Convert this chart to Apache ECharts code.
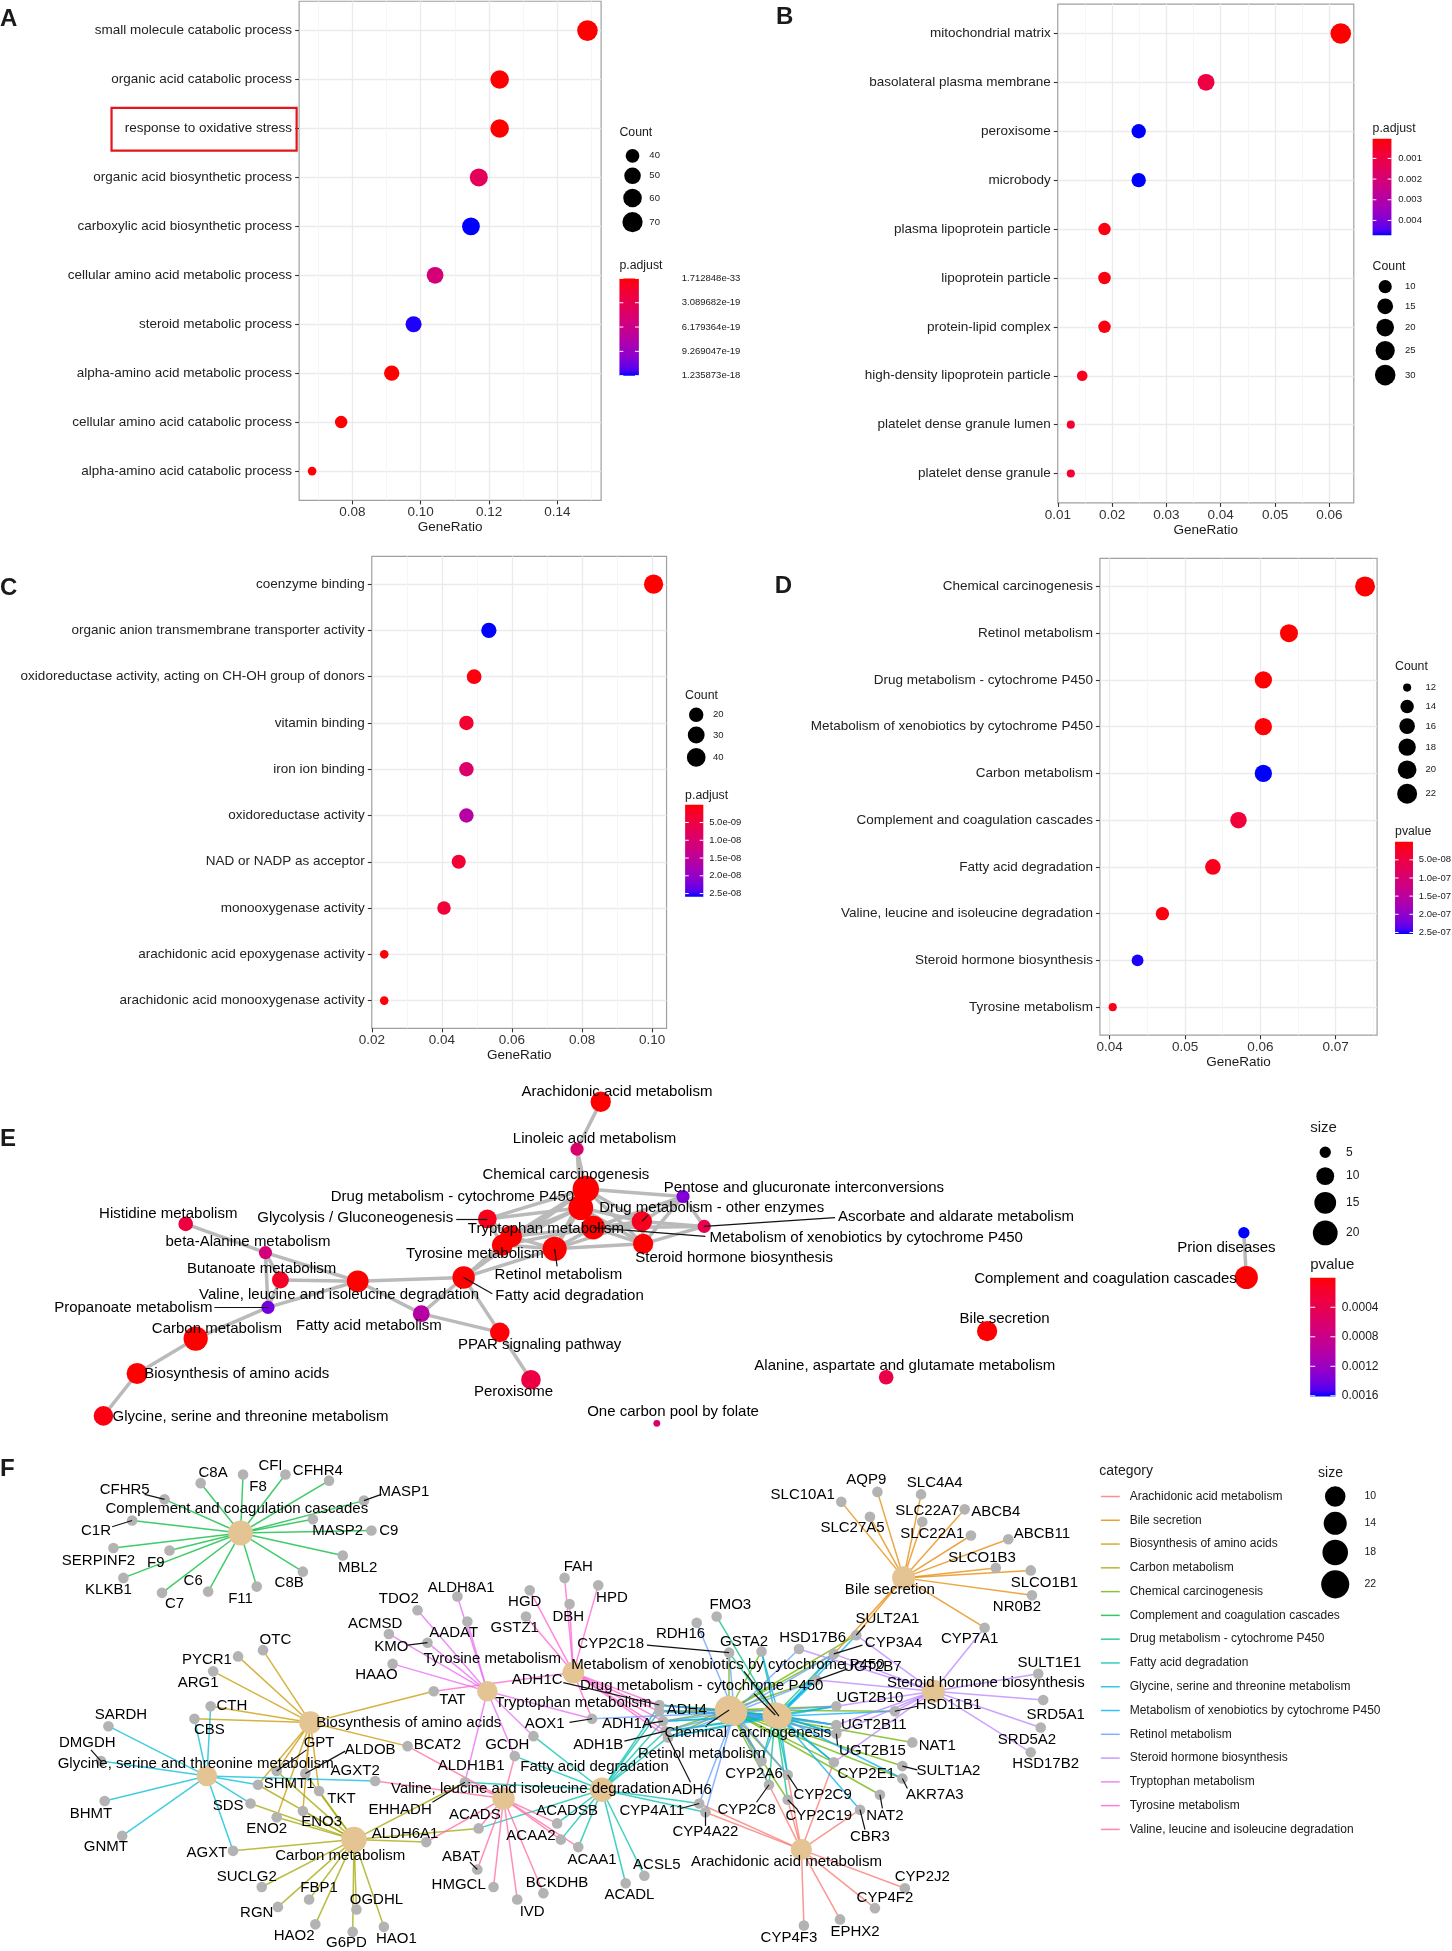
<!DOCTYPE html>
<html>
<head>
<meta charset="utf-8">
<script src="https://cdn.jsdelivr.net/npm/echarts/dist/echarts.min.js"></script>
<style>html,body{margin:0;padding:0;background:#fff}#chart{width:1452px;height:1951px}</style>
</head>
<body>
<div id="chart"></div>
<script>
// reference layout units (1165 wide) -> page px
const S = 1452 / 1165;
const FONT = '"Liberation Sans", Arial, Helvetica, sans-serif';

// ---------- A: GO biological process ----------
const aTerms = ['small molecule catabolic process', 'organic acid catabolic process', 'response to oxidative stress',
  'organic acid biosynthetic process', 'carboxylic acid biosynthetic process', 'cellular amino acid metabolic process',
  'steroid metabolic process', 'alpha-amino acid metabolic process', 'cellular amino acid catabolic process',
  'alpha-amino acid catabolic process'];
const aRatio = [0.1488, 0.1231, 0.1231, 0.1170, 0.1147, 0.1042, 0.0979, 0.0915, 0.0767, 0.0682];
const aCount = [72, 60, 60, 57, 56, 51, 48, 45, 37, 33];
const aPadj = [1.712848e-33, 2.1e-25, 6.5e-23, 3.6e-19, 1.235873e-18, 5.3e-19, 1.225e-18, 4.2e-24, 1.8e-22, 9.5e-22];
const aRange = [0.0644, 0.1528];
const aColorTicks = [1.712848e-33, 3.089682e-19, 6.179364e-19, 9.269047e-19, 1.235873e-18];
const aSizeTicks = [40, 50, 60, 70];

// ---------- B: GO cellular component ----------
const bTerms = ['mitochondrial matrix', 'basolateral plasma membrane', 'peroxisome', 'microbody',
  'plasma lipoprotein particle', 'lipoprotein particle', 'protein-lipid complex', 'high-density lipoprotein particle',
  'platelet dense granule lumen', 'platelet dense granule'];
const bRatio = [0.0621, 0.0373, 0.0249, 0.0249, 0.0186, 0.0186, 0.0186, 0.0145, 0.0124, 0.0124];
const bCount = [30, 18, 12, 12, 9, 9, 9, 7, 6, 6];
const bPadj = [5.4e-5, 9.5e-4, 4.72e-3, 4.72e-3, 2.0e-4, 2.0e-4, 2.0e-4, 3.5e-4, 6.5e-4, 6.5e-4];
const bRange = [0.01, 0.0645];
const bPLim = [5.4e-5, 4.72e-3];
const bColorTicks = [0.001, 0.002, 0.003, 0.004];
const bSizeTicks = [10, 15, 20, 25, 30];

// ---------- C: GO molecular function ----------
const cTerms = ['coenzyme binding', 'organic anion transmembrane transporter activity',
  'oxidoreductase activity, acting on CH-OH group of donors', 'vitamin binding', 'iron ion binding',
  'oxidoreductase activity', 'NAD or NADP as acceptor', 'monooxygenase activity',
  'arachidonic acid epoxygenase activity', 'arachidonic acid monooxygenase activity'];
const cRatio = [0.1004, 0.0534, 0.0492, 0.0470, 0.0470, 0.0470, 0.0448, 0.0406, 0.02355, 0.02355];
const cCount = [43, 23, 21, 20, 20, 20, 19, 17, 10, 10];
const cPadj = [2.0e-12, 2.59e-8, 6.0e-10, 3.2e-9, 9.5e-9, 1.6e-8, 3.5e-9, 3.8e-9, 3.0e-10, 3.0e-10];
const cRange = [0.02, 0.1041];
const cPLim = [2.0e-12, 2.59e-8];
const cColorTicks = [5e-9, 1e-8, 1.5e-8, 2e-8, 2.5e-8];
const cSizeTicks = [20, 30, 40];

// ---------- D: KEGG ----------
const dTerms = ['Chemical carcinogenesis', 'Retinol metabolism', 'Drug metabolism - cytochrome P450',
  'Metabolism of xenobiotics by cytochrome P450', 'Carbon metabolism', 'Complement and coagulation cascades',
  'Fatty acid degradation', 'Valine, leucine and isoleucine degradation', 'Steroid hormone biosynthesis',
  'Tyrosine metabolism'];
const dRatio = [0.0739, 0.0638, 0.0604, 0.0604, 0.0604, 0.0571, 0.0537, 0.0470, 0.0437, 0.0404];
const dCount = [22, 19, 18, 18, 18, 17, 16, 14, 13, 12];
const dPval = [2.0e-13, 3.0e-11, 1.2e-9, 2.0e-9, 2.54e-7, 4.0e-8, 1.5e-8, 6.0e-9, 2.52e-7, 1.0e-8];
const dRange = [0.0387, 0.0755];
const dPLim = [2.0e-13, 2.54e-7];
const dColorTicks = [5e-8, 1e-7, 1.5e-7, 2e-7, 2.5e-7];
const dSizeTicks = [12, 14, 16, 18, 20, 22];

// ---------- E: enrichment map ----------
const eTerms = ['Arachidonic acid metabolism', 'Linoleic acid metabolism', 'Chemical carcinogenesis',
  'Drug metabolism - cytochrome P450', 'Pentose and glucuronate interconversions', 'Drug metabolism - other enzymes',
  'Ascorbate and aldarate metabolism', 'Metabolism of xenobiotics by cytochrome P450', 'Histidine metabolism',
  'beta-Alanine metabolism', 'Glycolysis / Gluconeogenesis', 'Tryptophan metabolism', 'Tyrosine metabolism',
  'Retinol metabolism', 'Steroid hormone biosynthesis', 'Butanoate metabolism',
  'Valine, leucine and isoleucine degradation', 'Fatty acid degradation', 'Propanoate metabolism',
  'Carbon metabolism', 'Fatty acid metabolism', 'PPAR signaling pathway', 'Biosynthesis of amino acids',
  'Peroxisome', 'Glycine, serine and threonine metabolism', 'One carbon pool by folate', 'Prion diseases',
  'Complement and coagulation cascades', 'Bile secretion', 'Alanine, aspartate and glutamate metabolism'];
const eSize = [13, 6, 23, 20, 6, 13, 6, 18, 7, 6, 11, 15, 14, 19, 13, 9, 15, 16, 6, 19, 9, 12, 14, 12, 12, 4, 5, 17, 13, 7];
const ePval = [2e-6, 6e-4, 1e-10, 1e-9, 1.35e-3, 1e-4, 4e-4, 1e-9, 3e-4, 7e-4, 8e-5, 1e-6, 2e-6, 1e-9, 2e-6, 1.5e-4,
  2e-7, 1e-7, 1.4e-3, 1e-8, 1.0e-3, 2e-5, 1e-6, 3.2e-4, 5e-5, 6e-4, 1.61e-3, 3e-8, 5e-6, 3.5e-4];
// node layout as drawn in the reference
const eX = [482, 463, 470, 466, 548, 515, 565, 476, 149, 213, 391, 410, 403, 445, 516, 225, 287, 372, 215, 157, 338, 401, 110, 426, 83, 527, 998, 1000, 792, 711];
const eY = [884, 922, 954, 969, 960, 980, 984, 985, 982, 1005, 978, 992, 999, 1002, 998, 1027, 1028, 1025, 1049, 1074, 1054, 1069, 1102, 1107, 1136, 1142, 989, 1025, 1068, 1105];
const eEdges = [[0, 1], [1, 2], [1, 3], [2, 3], [2, 7], [2, 13], [2, 14], [2, 5], [2, 4], [2, 10], [2, 11], [2, 12],
  [3, 7], [3, 13], [3, 5], [3, 10], [3, 11], [3, 12], [3, 14], [7, 13], [7, 14], [7, 5], [7, 6], [7, 4], [7, 11], [7, 12],
  [13, 14], [13, 11], [13, 12], [13, 5], [5, 4], [5, 6], [5, 14], [4, 6], [4, 14], [6, 14], [10, 11], [10, 12], [11, 12],
  [17, 12], [17, 11], [17, 13], [17, 2], [8, 9], [9, 15], [9, 16], [9, 18], [15, 16], [15, 18], [16, 18], [16, 17],
  [16, 20], [18, 19], [19, 22], [22, 24], [17, 20], [17, 21], [20, 21], [21, 23], [26, 27]];
const ePLim = [0, 0.00161];
const eColorTicks = [0.0004, 0.0008, 0.0012, 0.0016];
const eSizeTicks = [5, 10, 15, 20];
// label placement (repelled labels) and leader ends
const eLabX = [495, 477, 454, 363, 645, 571, 767, 695, 135, 199, 285, 438, 381, 448, 589, 210, 272, 457, 107, 174, 296, 433, 190, 412, 201, 540, 984, 887, 806, 726];
const eLabY = [876, 914, 943, 960, 953, 969, 976, 993, 974, 996, 977, 986, 1006, 1023, 1009, 1018, 1039, 1040, 1049, 1066, 1064, 1079, 1102, 1117, 1137, 1133, 1001, 1026, 1058, 1096];
const eLeaders = [[10, 366, 978], [18, 172, 1049], [6, 670, 977], [7, 566, 992], [13, 447, 1016], [17, 395, 1038], [5, 520, 975]];

// ---------- F: gene-concept network ----------
const fCats = ['Arachidonic acid metabolism', 'Bile secretion', 'Biosynthesis of amino acids', 'Carbon metabolism',
  'Chemical carcinogenesis', 'Complement and coagulation cascades', 'Drug metabolism - cytochrome P450',
  'Fatty acid degradation', 'Glycine, serine and threonine metabolism', 'Metabolism of xenobiotics by cytochrome P450',
  'Retinol metabolism', 'Steroid hormone biosynthesis', 'Tryptophan metabolism', 'Tyrosine metabolism',
  'Valine, leucine and isoleucine degradation'];
const fCatGenes = [
  ['CYP2J2', 'CYP4F2', 'EPHX2', 'CYP4F3', 'CYP2C8', 'CYP2C9', 'CYP2C19', 'CYP4A11', 'CYP4A22', 'CYP2E1', 'CBR3'],
  ['SLC10A1', 'AQP9', 'SLC4A4', 'ABCB4', 'SLC22A7', 'SLC27A5', 'SLC22A1', 'ABCB11', 'SLCO1B3', 'SLCO1B1', 'NR0B2', 'CYP7A1', 'SULT2A1', 'CYP3A4'],
  ['OTC', 'PYCR1', 'ARG1', 'CTH', 'CBS', 'TAT', 'BCAT2', 'GPT', 'ALDOB', 'SHMT1', 'TKT', 'ENO2', 'ENO3'],
  ['GPT', 'ALDOB', 'SHMT1', 'TKT', 'ENO2', 'ENO3', 'SDS', 'AGXT', 'SUCLG2', 'FBP1', 'RGN', 'OGDHL', 'HAO2', 'G6PD', 'HAO1', 'ALDH6A1', 'EHHADH', 'ACADS'],
  ['ADH1C', 'ADH4', 'ADH1A', 'ADH1B', 'ADH6', 'CYP2A6', 'CYP2C8', 'CYP2C9', 'CYP2C18', 'CYP2C19', 'CYP2E1', 'CYP3A4', 'GSTA2', 'HSD11B1', 'NAT1', 'NAT2', 'SULT1A2', 'SULT2A1', 'UGT2B7', 'UGT2B10', 'UGT2B11', 'UGT2B15', 'AKR7A3'],
  ['CFHR5', 'C8A', 'CFI', 'F8', 'CFHR4', 'MASP1', 'MASP2', 'C9', 'MBL2', 'C8B', 'F11', 'C6', 'C7', 'KLKB1', 'F9', 'SERPINF2', 'C1R'],
  ['ADH1C', 'ADH4', 'ADH1A', 'ADH1B', 'ADH6', 'FMO3', 'GSTA2', 'CYP2A6', 'CYP2C8', 'CYP2C9', 'CYP2C19', 'CYP2E1', 'CYP3A4', 'UGT2B7', 'UGT2B10', 'UGT2B11', 'UGT2B15', 'CYP2C18'],
  ['ACADS', 'ACADSB', 'ACAA2', 'ACAA1', 'ACSL5', 'ACADL', 'EHHADH', 'GCDH', 'ALDH1B1', 'ADH1C', 'ADH4', 'ADH1A', 'ADH1B', 'ADH6', 'CYP4A11', 'CYP4A22'],
  ['SARDH', 'DMGDH', 'BHMT', 'GNMT', 'CTH', 'CBS', 'AGXT', 'SDS', 'SHMT1', 'AGXT2'],
  ['ADH1C', 'ADH4', 'ADH1A', 'ADH1B', 'ADH6', 'AKR7A3', 'CBR3', 'CYP2A6', 'CYP2C9', 'CYP2E1', 'CYP3A4', 'GSTA2', 'HSD11B1', 'SULT2A1', 'UGT2B7', 'UGT2B10', 'UGT2B11', 'UGT2B15'],
  ['ADH1C', 'ADH4', 'ADH1A', 'ADH1B', 'ADH6', 'RDH16', 'CYP2A6', 'CYP2C8', 'CYP2C9', 'CYP2C18', 'CYP3A4', 'CYP4A11', 'CYP4A22', 'UGT2B7', 'UGT2B10', 'UGT2B11', 'UGT2B15', 'AOX1', 'HSD17B6'],
  ['SULT1E1', 'HSD11B1', 'SRD5A1', 'SRD5A2', 'HSD17B2', 'CYP7A1', 'HSD17B6', 'CYP3A4', 'UGT2B7', 'UGT2B10', 'UGT2B11', 'UGT2B15', 'SULT2A1', 'CYP2E1'],
  ['TDO2', 'ALDH8A1', 'ACMSD', 'AADAT', 'KMO', 'HAAO', 'AOX1', 'GCDH', 'EHHADH', 'ALDH1B1'],
  ['TAT', 'HGD', 'GSTZ1', 'FAH', 'HPD', 'DBH', 'ADH1C', 'ADH4', 'ADH1A', 'ADH1B', 'ADH6', 'AOX1'],
  ['BCAT2', 'ALDH6A1', 'EHHADH', 'ACADS', 'ABAT', 'HMGCL', 'IVD', 'BCKDHB', 'ACAA2', 'ACAA1', 'ACADSB', 'AGXT2', 'ALDH1B1']
];
const fSizeTicks = [10, 14, 18, 22];
const fCatXY = [[643, 1484], [725, 1266], [249, 1382], [284, 1476], [585, 1372], [193, 1230], [622, 1376], [483, 1436],
  [166, 1425], [625, 1377], [589, 1374], [749, 1357], [391, 1357], [460, 1342], [404, 1443]];
const fCatLabXY = [[631, 1494], [714, 1276], [328, 1382], [273, 1489], [600, 1390], [190, 1211], [563, 1353], [477, 1418],
  [157, 1415], [584, 1336], [563, 1407], [791, 1350], [460, 1366], [395, 1331], [426, 1435]];
const fGenes = [
  'CFHR5', 'C8A', 'CFI', 'F8', 'CFHR4', 'MASP1', 'MASP2', 'C9', 'MBL2', 'C8B', 'F11', 'C6', 'C7', 'KLKB1', 'F9', 'SERPINF2', 'C1R',
  'OTC', 'PYCR1', 'ARG1', 'CTH', 'CBS', 'SARDH', 'DMGDH', 'BHMT', 'GNMT', 'AGXT', 'SDS', 'SHMT1', 'GPT', 'ALDOB', 'AGXT2', 'TKT',
  'ENO2', 'ENO3', 'TAT', 'BCAT2', 'SUCLG2', 'FBP1', 'RGN', 'OGDHL', 'HAO2', 'G6PD', 'HAO1', 'ALDH6A1', 'EHHADH', 'ACADS', 'ABAT', 'HMGCL',
  'TDO2', 'ALDH8A1', 'ACMSD', 'AADAT', 'KMO', 'HAAO', 'HGD', 'GSTZ1', 'DBH', 'FAH', 'HPD', 'ADH1C', 'ADH4', 'ADH1A', 'ADH1B', 'ADH6', 'AOX1', 'GCDH', 'ALDH1B1',
  'FMO3', 'RDH16', 'GSTA2', 'CYP2C18', 'HSD17B6', 'SULT2A1', 'CYP3A4', 'UGT2B7', 'UGT2B10', 'UGT2B11', 'UGT2B15', 'CYP2E1', 'NAT1', 'SULT1A2',
  'AKR7A3', 'NAT2', 'CBR3', 'CYP2C9', 'CYP2C19', 'CYP2A6', 'CYP2C8', 'CYP4A11', 'CYP4A22',
  'SULT1E1', 'HSD11B1', 'SRD5A1', 'SRD5A2', 'HSD17B2', 'CYP7A1',
  'SLC10A1', 'AQP9', 'SLC4A4', 'ABCB4', 'SLC22A7', 'SLC27A5', 'SLC22A1', 'ABCB11', 'SLCO1B3', 'SLCO1B1', 'NR0B2',
  'ACADSB', 'ACAA2', 'ACAA1', 'ACSL5', 'ACADL', 'BCKDHB', 'IVD',
  'CYP2J2', 'CYP4F2', 'EPHX2', 'CYP4F3'];
const fGeneXY = [
  [132, 1203], [161, 1190], [195, 1183], [229, 1183], [264, 1188], [292, 1204], [251, 1219], [298, 1228], [275, 1248], [243, 1261], [206, 1273], [167, 1277], [130, 1278], [99, 1266], [136, 1244], [91, 1242], [106, 1220],
  [211, 1324], [191, 1329], [171, 1341], [169, 1369], [156, 1379], [87, 1385], [81, 1413], [84, 1445], [98, 1473], [187, 1485], [201, 1447], [207, 1432], [222, 1421], [245, 1423], [301, 1429], [256, 1437],
  [222, 1458], [243, 1453], [348, 1357], [327, 1401], [210, 1514], [248, 1524], [223, 1530], [286, 1532], [253, 1544], [283, 1550], [308, 1546], [342, 1478], [373, 1430], [384, 1467], [383, 1500], [396, 1514],
  [335, 1292], [367, 1281], [312, 1311], [375, 1301], [343, 1318], [315, 1335], [425, 1276], [422, 1297], [457, 1287], [453, 1266], [480, 1272], [529, 1368], [529, 1373], [532, 1381], [534, 1389], [536, 1394], [475, 1379], [428, 1393], [413, 1409],
  [575, 1297], [559, 1302], [611, 1325], [585, 1326], [641, 1323], [687, 1312], [669, 1327], [655, 1348], [671, 1369], [671, 1384], [671, 1391], [669, 1414], [732, 1398], [724, 1417],
  [724, 1427], [706, 1440], [690, 1452], [632, 1424], [632, 1444], [611, 1413], [617, 1432], [561, 1447], [566, 1454],
  [833, 1343], [718, 1373], [837, 1364], [835, 1386], [827, 1406], [790, 1306],
  [675, 1205], [704, 1197], [739, 1199], [774, 1211], [740, 1221], [698, 1217], [779, 1232], [809, 1235], [799, 1258], [827, 1260], [828, 1280],
  [447, 1463], [450, 1476], [464, 1482], [517, 1505], [502, 1511], [436, 1519], [415, 1524],
  [726, 1515], [702, 1531], [674, 1540], [645, 1545]];
const fGeneLabXY = [
  [100, 1195], [171, 1182], [217, 1176], [207, 1193], [255, 1180], [324, 1197], [271, 1228], [312, 1228], [287, 1258], [232, 1270], [193, 1283], [155, 1268], [140, 1287], [87, 1276], [125, 1254], [79, 1252], [77, 1228],
  [221, 1316], [166, 1332], [159, 1350], [186, 1369], [168, 1388], [97, 1376], [70, 1398], [73, 1455], [85, 1482], [166, 1487], [183, 1449], [232, 1431], [256, 1398], [297, 1404], [285, 1421], [274, 1443],
  [214, 1467], [258, 1462], [363, 1364], [351, 1400], [198, 1506], [256, 1515], [206, 1535], [302, 1524], [236, 1553], [278, 1559], [318, 1556], [325, 1471], [321, 1452], [381, 1456], [370, 1490], [368, 1512],
  [320, 1283], [370, 1274], [301, 1303], [364, 1310], [314, 1321], [302, 1344], [421, 1285], [413, 1306], [456, 1297], [464, 1257], [491, 1282], [431, 1348], [551, 1372], [503, 1383], [480, 1400], [555, 1436], [437, 1383], [407, 1400], [378, 1417],
  [586, 1288], [546, 1311], [597, 1317], [490, 1319], [652, 1314], [712, 1299], [717, 1318], [700, 1337], [698, 1362], [701, 1384], [700, 1405], [695, 1423], [752, 1401], [761, 1421],
  [750, 1440], [710, 1457], [698, 1474], [660, 1440], [657, 1457], [605, 1423], [599, 1452], [523, 1453], [566, 1470],
  [842, 1334], [761, 1368], [847, 1376], [824, 1396], [839, 1415], [778, 1315],
  [644, 1199], [695, 1187], [750, 1190], [799, 1213], [744, 1212], [684, 1226], [748, 1231], [836, 1231], [788, 1250], [838, 1270], [816, 1289],
  [455, 1453], [426, 1473], [475, 1492], [527, 1496], [505, 1520], [447, 1511], [427, 1534],
  [740, 1506], [710, 1523], [686, 1550], [633, 1555]];
const fLeaders = [['CFHR5', 116, 1199], ['MASP1', 306, 1199], ['C1R', 90, 1225], ['DMGDH', 73, 1404], ['GPT', 246, 1404],
  ['ALDOB', 277, 1405], ['EHHADH', 347, 1446], ['KMO', 327, 1320], ['ADH1C', 452, 1350], ['ADH1A', 520, 1383],
  ['ADH1B', 501, 1397], ['ADH6', 554, 1430], ['AOX1', 457, 1382], ['CYP2C18', 519, 1320], ['SULT2A1', 694, 1304],
  ['CYP3A4', 692, 1320], ['UGT2B7', 680, 1339], ['UGT2B15', 672, 1400], ['AKR7A3', 728, 1435], ['CBR3', 694, 1468],
  ['CYP2C9', 640, 1436], ['CYP2C19', 640, 1452], ['CYP2C8', 607, 1446], ['CYP4A11', 546, 1451], ['CYP4A22', 566, 1465],
  ['HSD11B1', 736, 1369], ['SULT1A2', 736, 1420], ['NAT2', 708, 1451], ['ABAT', 377, 1494],
  ['Chemical carcinogenesis', 567, 1384], ['Metabolism of xenobiotics by cytochrome P450', 597, 1341],
  ['Drug metabolism - cytochrome P450', 605, 1359]];
const fCatColor = ['#F8766D', '#E58700', '#C99800', '#A3A500', '#6BB100', '#00BA38', '#00BF7D', '#00C0AF', '#00BCD8',
  '#00B0F6', '#619CFF', '#B983FF', '#E76BF3', '#FD61D1', '#FF67A4'];

// ---------- colour: ggplot-style red->blue gradient in Lab ----------
function toLin(c) { c /= 255; return c <= 0.04045 ? c / 12.92 : Math.pow((c + 0.055) / 1.055, 2.4); }
function toSrgb(c) { c = Math.max(0, Math.min(1, c)); return Math.round(255 * (c <= 0.0031308 ? 12.92 * c : 1.055 * Math.pow(c, 1 / 2.4) - 0.055)); }
function rgbToLab(r, g, b) {
  const R = toLin(r), G = toLin(g), B = toLin(b);
  const X = (0.4124 * R + 0.3576 * G + 0.1805 * B) / 0.95047, Y = 0.2126 * R + 0.7152 * G + 0.0722 * B,
    Z = (0.0193 * R + 0.1192 * G + 0.9505 * B) / 1.08883;
  const f = t => t > 0.008856 ? Math.cbrt(t) : 7.787 * t + 16 / 116;
  return [116 * f(Y) - 16, 500 * (f(X) - f(Y)), 200 * (f(Y) - f(Z))];
}
function labToRgb(L, a, b) {
  const fy = (L + 16) / 116, fx = fy + a / 500, fz = fy - b / 200;
  const inv = t => t * t * t > 0.008856 ? t * t * t : (t - 16 / 116) / 7.787;
  const X = inv(fx) * 0.95047, Y = inv(fy), Z = inv(fz) * 1.08883;
  return 'rgb(' + toSrgb(3.2406 * X - 1.5372 * Y - 0.4986 * Z) + ',' + toSrgb(-0.9689 * X + 1.8758 * Y + 0.0415 * Z) + ','
    + toSrgb(0.0557 * X - 0.2040 * Y + 1.0570 * Z) + ')';
}
const LO = rgbToLab(255, 0, 0), HI = rgbToLab(0, 0, 255);
function gradColor(t) {
  t = Math.max(0, Math.min(1, t));
  return labToRgb(LO[0] + (HI[0] - LO[0]) * t, LO[1] + (HI[1] - LO[1]) * t, LO[2] + (HI[2] - LO[2]) * t);
}
const fmtSci = (v, d) => v.toExponential(d).replace(/e([+-])(\d)$/, 'e$10$2');
// area-style size scale (diameter in layout units -> px)
const mkSize = (vmin, vmax, dmin, dmax) => v => (dmin + (dmax - dmin) * Math.sqrt(Math.max(0, v - vmin) / (vmax - vmin))) * S;

const grids = [], xAxes = [], yAxes = [], series = [], gfx = [];

function txt(x, y, s, size, align, bold, valign) {
  gfx.push({type: 'text', x: x * S, y: y * S, z: 50, silent: true,
    style: {text: s, fill: '#1a1a1a', font: (bold ? 'bold ' : '') + size + 'px ' + FONT,
      textAlign: align || 'left', textVerticalAlign: valign || 'middle'}});
}

function dotPanel(terms, ratio, count, pval, frame, xr, sizeFn, pLim) {
  const gi = grids.length, n = terms.length;
  const step = (frame[3] - frame[1]) / (n + 0.2), pad = 0.6 * step;
  const L = frame[0] * S, W = (frame[2] - frame[0]) * S;
  const niceMin = Math.abs(xr[0] * 100 - Math.round(xr[0] * 100)) < 1e-9;
  grids.push({left: L, top: frame[1] * S, width: W, height: (frame[3] - frame[1]) * S, show: true,
    borderColor: '#a0a0a0', borderWidth: 1.2, backgroundColor: 'transparent', outerBoundsMode: 'none'});
  grids.push({left: L, top: (frame[1] + pad) * S, width: W, height: (frame[3] - frame[1] - 2 * pad) * S, outerBoundsMode: 'none'});
  xAxes.push({gridIndex: gi, type: 'value', min: xr[0], max: xr[1],
    axisLine: {show: false},
    axisTick: {show: true, length: 4, lineStyle: {color: '#333', width: 1.1}},
    axisLabel: {show: true, margin: 5, color: '#333', fontSize: 13.5, fontFamily: FONT,
      showMinLabel: niceMin ? null : false, showMaxLabel: false, formatter: v => v.toFixed(2)},
    splitLine: {show: true, showMinLine: false, showMaxLine: false, lineStyle: {color: '#ebebeb', width: 1.3}},
    minorTick: {show: false, splitNumber: 2},
    minorSplitLine: {show: true, lineStyle: {color: '#f4f4f4', width: 0.8}},
    name: 'GeneRatio', nameLocation: 'middle', nameGap: 20,
    nameTextStyle: {color: '#1a1a1a', fontSize: 13.5, fontFamily: FONT}});
  xAxes.push({gridIndex: gi + 1, type: 'value', min: xr[0], max: xr[1], show: false});
  yAxes.push({gridIndex: gi, type: 'value', min: 0, max: 1, show: false});
  yAxes.push({gridIndex: gi + 1, type: 'category', data: terms, inverse: true, boundaryGap: false,
    axisLine: {show: false},
    axisTick: {show: true, length: 4, interval: 0, lineStyle: {color: '#333', width: 1.1}},
    axisLabel: {interval: 0, margin: 7, color: '#222', fontSize: 13.5, fontFamily: FONT},
    splitLine: {show: true, interval: 0, lineStyle: {color: '#ebebeb', width: 1.3}}});
  series.push({type: 'scatter', xAxisIndex: gi + 1, yAxisIndex: gi + 1, z: 5, silent: true,
    data: terms.map((t, i) => [ratio[i], i, count[i], pval[i]]),
    symbolSize: v => sizeFn(v[2]),
    itemStyle: {opacity: 1, color: p => gradColor((p.value[3] - pLim[0]) / (pLim[1] - pLim[0]))}});
}

function sizeLegend(title, x, ty, vals, y0, cx, lx, dFn, minKey, gap, tSize, lSize) {
  txt(x, ty, title, tSize);
  let y = y0, prev = null;
  vals.forEach(v => {
    const d = dFn(v) / S, k = Math.max(d, minKey);
    if (prev !== null) y += (prev + k) / 2 + gap;
    gfx.push({type: 'circle', z: 50, silent: true, shape: {cx: cx * S, cy: y * S, r: d * S / 2}, style: {fill: '#000'}});
    txt(lx, y, String(v), lSize);
    prev = k;
  });
}

function colorBar(title, x, ty, top, bot, w, ticks, labels, lim, lx, tSize, lSize) {
  txt(x, ty, title, tSize);
  const stops = [];
  for (let i = 0; i <= 20; i++) stops.push({offset: i / 20, color: gradColor(i / 20)});
  gfx.push({type: 'rect', z: 50, silent: true, shape: {x: x * S, y: top * S, width: w * S, height: (bot - top) * S},
    style: {fill: {type: 'linear', x: 0, y: 0, x2: 0, y2: 1, colorStops: stops}}});
  ticks.forEach((v, i) => {
    const y = (top + (v - lim[0]) / (lim[1] - lim[0]) * (bot - top)) * S;
    [[x, x + w / 5], [x + 4 * w / 5, x + w]].forEach(([a, b]) => gfx.push({type: 'line', z: 51, silent: true,
      shape: {x1: a * S, y1: y, x2: b * S, y2: y}, style: {stroke: '#fff', lineWidth: 1}}));
    txt(lx, y / S, labels[i], lSize);
  });
}

// ---------- A-D dot plots ----------
const aPLim = [aColorTicks[0], aColorTicks[aColorTicks.length - 1]];
const aSize = mkSize(33, 72, 7, 16.5), bSize = mkSize(6, 30, 6.5, 16.5), cSize = mkSize(10, 43, 6.9, 15.4), dSize = mkSize(12, 22, 6.5, 16);
dotPanel(aTerms, aRatio, aCount, aPadj, [240, 1, 482.3, 401.5], aRange, aSize, aPLim);
dotPanel(bTerms, bRatio, bCount, bPadj, [848.7, 3.3, 1086.2, 403.5], bRange, bSize, bPLim);
dotPanel(cTerms, cRatio, cCount, cPadj, [298.3, 446.4, 534.8, 825.1], cRange, cSize, cPLim);
dotPanel(dTerms, dRatio, dCount, dPval, [882.5, 448, 1104.9, 830.6], dRange, dSize, dPLim);

sizeLegend('Count', 497, 106.5, aSizeTicks, 125, 507.5, 521, aSize, 11.5, 3.7, 12.3, 9.5);
colorBar('p.adjust', 497, 213, 223.4, 301.4, 15.6, aColorTicks, aColorTicks.map(v => fmtSci(v, 6)), aPLim, 547, 12.3, 9.5);
colorBar('p.adjust', 1101.3, 102.8, 111.4, 188.8, 15.1, bColorTicks, bColorTicks.map(v => v.toFixed(3)), bPLim, 1121.8, 12.3, 9.5);
sizeLegend('Count', 1101.3, 213.7, bSizeTicks, 230, 1111.4, 1127.2, bSize, 11.5, 3.7, 12.3, 9.5);
sizeLegend('Count', 549.7, 557.8, cSizeTicks, 573.5, 558.6, 572, cSize, 11.5, 3.7, 12.3, 9.5);
colorBar('p.adjust', 549.7, 638, 645.7, 719.5, 14.6, cColorTicks, cColorTicks.map(v => fmtSci(v, 1)), cPLim, 569, 12.3, 9.5);
sizeLegend('Count', 1119.3, 535.1, dSizeTicks, 551.7, 1129, 1143.7, dSize, 11.5, 3.7, 12.3, 9.5);
colorBar('pvalue', 1119.3, 667, 675.3, 749.3, 14.4, dColorTicks, dColorTicks.map(v => fmtSci(v, 1)), dPLim, 1138.3, 12.3, 9.5);

// highlight box in A
gfx.push({type: 'rect', z: 52, silent: true, shape: {x: 89.5 * S, y: 86.5 * S, width: 148.5 * S, height: 34.3 * S},
  style: {fill: 'none', stroke: '#e3161c', lineWidth: 2.2}});

// panel letters
[['A', 0, 15.2], ['B', 622.7, 13.9], ['C', 0, 472], ['D', 621.7, 470.7], ['E', 0, 914], ['F', 0, 1179]]
  .forEach(([t, x, y]) => txt(x, y, t, 24, 'left', true));

// ---------- E / F share one page-wide layout grid ----------
const NG = grids.length;
grids.push({left: 0, top: 0, width: 1452, height: 1951, outerBoundsMode: 'none'});
xAxes.push({gridIndex: NG, type: 'value', min: 0, max: 1452 / S, show: false});
yAxes.push({gridIndex: NG, type: 'value', min: 0, max: 1951 / S, inverse: true, show: false});

const eNodeD = s => (5.5 + 15.7 * Math.sqrt(Math.max(0, s - 4) / 19)) * S;
const lab = (dx, dy) => ({show: true, position: 'inside', offset: [dx * S, dy * S], color: '#000', fontSize: 15, fontFamily: FONT});

series.push({type: 'graph', coordinateSystem: 'cartesian2d', xAxisIndex: NG, yAxisIndex: NG, layout: 'none', silent: true, z: 4,
  data: eTerms.map((t, i) => ({name: t, value: [eX[i], eY[i]], symbolSize: eNodeD(eSize[i]),
    itemStyle: {color: gradColor((ePval[i] - ePLim[0]) / (ePLim[1] - ePLim[0]))},
    label: lab(eLabX[i] - eX[i], eLabY[i] - eY[i])})),
  links: eEdges.map(([a, b]) => ({source: a, target: b})),
  lineStyle: {color: '#bababa', width: 3.5, opacity: 1, curveness: 0},
  emphasis: {disabled: true}});

const fNodeD = s => (11.5 + 0.5 * s) * S;
const fPos = {};
fGenes.forEach((g, i) => { fPos[g] = fGeneXY[i]; });
fCats.forEach((c, i) => { fPos[c] = fCatXY[i]; });
const fNodes = fGenes.map((g, i) => ({name: g, value: fGeneXY[i], symbolSize: 8.5 * S, itemStyle: {color: '#b3b3b3'},
  label: lab(fGeneLabXY[i][0] - fGeneXY[i][0], fGeneLabXY[i][1] - fGeneXY[i][1])}))
  .concat(fCats.map((c, i) => ({name: c, value: fCatXY[i], symbolSize: fNodeD(fCatGenes[i].length), itemStyle: {color: '#E5C494'},
    label: lab(fCatLabXY[i][0] - fCatXY[i][0], fCatLabXY[i][1] - fCatXY[i][1])})));
const fLinks = [];
fCats.forEach((c, i) => fCatGenes[i].forEach(g => {
  if (fPos[g]) fLinks.push({source: g, target: c, lineStyle: {color: fCatColor[i]}});
}));
series.push({type: 'graph', coordinateSystem: 'cartesian2d', xAxisIndex: NG, yAxisIndex: NG, layout: 'none', silent: true, z: 4,
  data: fNodes, links: fLinks, lineStyle: {width: 1.5, opacity: 0.75, curveness: 0}, emphasis: {disabled: true}});

// leader segments for repelled labels
const leaderData = eLeaders.map(([i, x, y]) => ({coords: [[eX[i], eY[i]], [x, y]]}))
  .concat(fLeaders.filter(l => fPos[l[0]]).map(([n, x, y]) => ({coords: [fPos[n], [x, y]]})));
series.push({type: 'lines', coordinateSystem: 'cartesian2d', xAxisIndex: NG, yAxisIndex: NG, silent: true, z: 6,
  data: leaderData, lineStyle: {color: '#111', width: 1.2, opacity: 1, curveness: 0}});

// E legends
sizeLegend('size', 1051.2, 904.6, eSizeTicks, 924.5, 1063.3, 1080, eNodeD, 13, 5.5, 15, 12);
colorBar('pvalue', 1051.2, 1014.5, 1025.2, 1120.5, 20.3, eColorTicks, eColorTicks.map(v => v.toFixed(4)), ePLim, 1076.6, 15, 12);

// F legends
txt(882, 1180.4, 'category', 14);
fCats.forEach((c, i) => {
  const y = 1200.7 + i * 19.08;
  gfx.push({type: 'line', z: 50, silent: true, shape: {x1: 883.3 * S, y1: y * S, x2: 898.4 * S, y2: y * S},
    style: {stroke: fCatColor[i], lineWidth: 1.5, opacity: 0.8}});
  txt(906.4, y, c, 12);
});
sizeLegend('size', 1057.5, 1181.7, fSizeTicks, 1200.7, 1071.3, 1094.7, fNodeD, 0, 4, 14, 10.5);

const chart = echarts.init(document.getElementById('chart'), null, {renderer: 'canvas', width: 1452, height: 1951});
chart.setOption({animation: false, backgroundColor: '#fff', textStyle: {fontFamily: FONT},
  grid: grids, xAxis: xAxes, yAxis: yAxes, series: series, graphic: gfx});
</script>
</body>
</html>
